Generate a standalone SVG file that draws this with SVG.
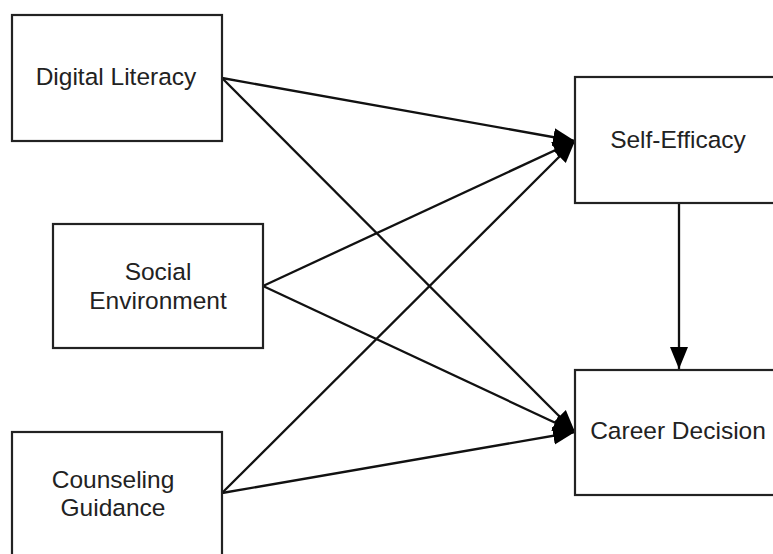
<svg xmlns="http://www.w3.org/2000/svg" width="773" height="554" viewBox="0 0 773 554">
  <style>
    .box { fill: #ffffff; stroke: #222222; stroke-width: 2.2; }
    .lbl { font-family: "Liberation Sans", Arial, sans-serif; font-size: 24.5px; fill: #222222; text-anchor: middle; }
    .edge { fill: none; stroke: #111111; stroke-width: 2.3; marker-end: url(#arrow); }
  </style>
  <defs>
    <marker id="arrow" markerUnits="userSpaceOnUse" markerWidth="23" markerHeight="20" refX="22" refY="10" orient="auto">
      <path d="M0,1 L22,10 L0,19 Z" fill="#000000"/>
    </marker>
  </defs>
  <rect width="773" height="554" fill="#ffffff"/>
  <g id="connectors">
    <line class="edge" x1="222" y1="78" x2="575" y2="141"/>
    <line class="edge" x1="222" y1="78" x2="575" y2="432"/>
    <line class="edge" x1="263" y1="286" x2="575" y2="141"/>
    <line class="edge" x1="263" y1="286" x2="575" y2="432"/>
    <line class="edge" x1="222" y1="493" x2="575" y2="141"/>
    <line class="edge" x1="222" y1="493" x2="575" y2="432"/>
    <line class="edge" x1="679" y1="203" x2="679" y2="369"/>
  </g>
  <g id="digital-literacy">
    <rect class="box" x="12" y="15" width="210" height="126"/>
    <text class="lbl" x="116" y="85">Digital Literacy</text>
  </g>
  <g id="social-environment">
    <rect class="box" x="53" y="224" width="210" height="124"/>
    <text class="lbl" x="158" y="280">Social</text>
    <text class="lbl" x="158" y="309">Environment</text>
  </g>
  <g id="counseling-guidance">
    <rect class="box" x="12" y="432" width="210" height="140"/>
    <text class="lbl" x="113" y="488">Counseling</text>
    <text class="lbl" x="113" y="516">Guidance</text>
  </g>
  <g id="self-efficacy">
    <rect class="box" x="575" y="77" width="210" height="126"/>
    <text class="lbl" x="678" y="148">Self-Efficacy</text>
  </g>
  <g id="career-decision">
    <rect class="box" x="575" y="370" width="210" height="125"/>
    <text class="lbl" x="678" y="439">Career Decision</text>
  </g>
</svg>
